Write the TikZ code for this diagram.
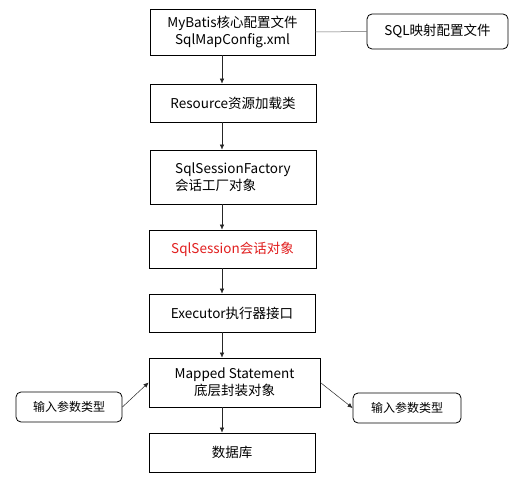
\documentclass[tikz,border=0pt]{standalone}
\usepackage{fontspec}
\setmainfont{Noto Sans CJK SC}
\usetikzlibrary{arrows.meta}
\definecolor{txtred}{RGB}{225,30,30}
\tikzset{
  box/.style={draw=black, line width=0.8pt, fill=white, inner sep=2pt, align=center, font=\fontsize{13.5}{17}\selectfont},
  rbox/.style={draw=black, line width=0.8pt, rounded corners=5pt, fill=white, inner sep=2pt, align=center},
  arr/.style={draw=black!85, line width=0.5pt, -{Latex[length=5pt,width=4.5pt]}},
  ln/.style={draw=black!60, line width=0.5pt}
}
\begin{document}
\begin{tikzpicture}[x=1pt,y=-1pt]
\useasboundingbox (0,0) rectangle (518,481);
\node[box, minimum width=165pt, minimum height=46pt] (b1) at (232.5,32) {MyBatis核心配置文件\\SqlMapConfig.xml};
\node[rbox, minimum width=141pt, minimum height=35pt, font=\fontsize{13.5}{17}\selectfont] (sql) at (437.5,31.5) {SQL映射配置文件};
\node[box, minimum width=166pt, minimum height=38pt] (b2) at (233,103) {Resource资源加载类};
\node[box, minimum width=166pt, minimum height=54pt, align=left] (b3) at (233,177) {SqlSessionFactory\\会话工厂对象};
\node[box, minimum width=167pt, minimum height=38pt, text=txtred] (b4) at (232.5,249) {SqlSession会话对象};
\node[box, minimum width=166pt, minimum height=38pt] (b5) at (232,313) {Executor执行器接口};
\node[box, minimum width=171pt, minimum height=49pt] (b6) at (234.5,382.5) {Mapped Statement\\底层封装对象};
\node[box, minimum width=166pt, minimum height=39pt] (b7) at (232,452.5) {数据库};
\node[rbox, minimum width=106pt, minimum height=30pt, font=\fontsize{12}{14}\selectfont] (in1) at (69,407) {输入参数类型};
\node[rbox, minimum width=108pt, minimum height=30pt, font=\fontsize{12}{14}\selectfont] (in2) at (407,408) {输入参数类型};
\coordinate (ax) at (222,0);
\draw[ln] (b1.east) -- (sql.west);
\draw[arr] (b1.south -| ax) -- (b2.north -| ax);
\draw[arr] (b2.south -| ax) -- (b3.north -| ax);
\draw[arr] (b3.south -| ax) -- (b4.north -| ax);
\draw[arr] (b4.south -| ax) -- (b5.north -| ax);
\draw[arr] (b5.south -| ax) -- (b6.north -| ax);
\draw[arr] (b6.south -| ax) -- (b7.north -| ax);
\draw[arr] (in1.east) -- (b6.west);
\draw[arr] (b6.east) -- (in2.west);
\end{tikzpicture}
\end{document}
